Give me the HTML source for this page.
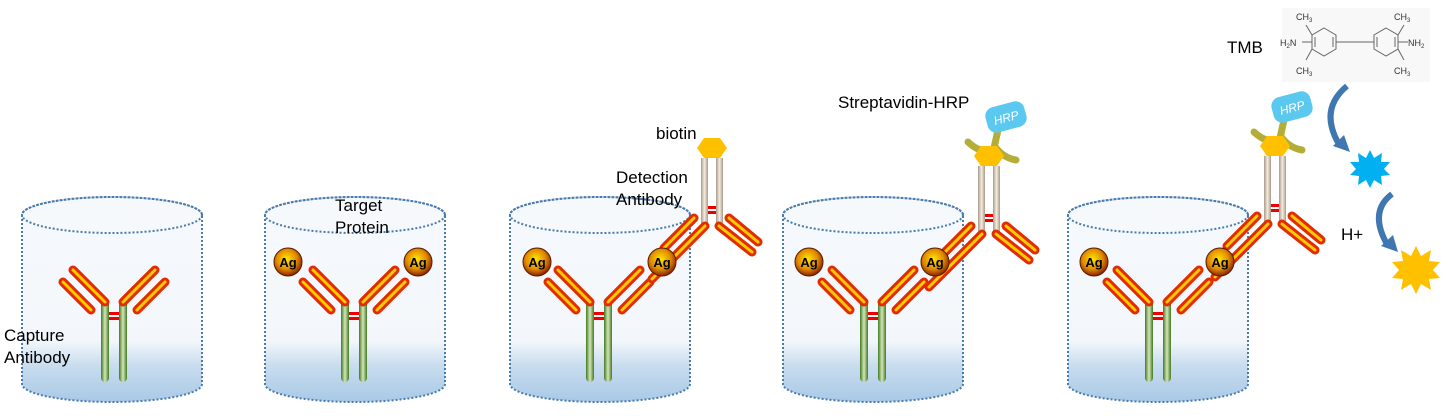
<!DOCTYPE html>
<html><head><meta charset="utf-8"><style>
html,body{margin:0;padding:0;background:#fff;}
svg{display:block;font-family:"Liberation Sans",Arial,sans-serif;}
</style></head><body>
<svg width="1449" height="418" viewBox="0 0 1449 418" xmlns="http://www.w3.org/2000/svg">
<defs>
<linearGradient id="cyl" x1="0" y1="0" x2="0" y2="1">
<stop offset="0" stop-color="#f6f9fc"/><stop offset="0.7" stop-color="#f3f7fb"/><stop offset="0.82" stop-color="#c9ddef"/><stop offset="1" stop-color="#a9c8e6"/>
</linearGradient>
<linearGradient id="grn" x1="0" y1="0" x2="1" y2="0">
<stop offset="0" stop-color="#3f7a22"/><stop offset="0.5" stop-color="#d6e6b8"/><stop offset="1" stop-color="#3f7a22"/>
</linearGradient>
<linearGradient id="tan" x1="0" y1="0" x2="1" y2="0">
<stop offset="0" stop-color="#a89a88"/><stop offset="0.5" stop-color="#f5ece0"/><stop offset="1" stop-color="#a89a88"/>
</linearGradient>
<radialGradient id="ag" cx="0.45" cy="0.4" r="0.6">
<stop offset="0" stop-color="#ffe600"/><stop offset="0.6" stop-color="#e08a00"/><stop offset="1" stop-color="#8a2200"/>
</radialGradient>
<g id="cap">
<rect x="-14" y="0" width="8" height="82" rx="4" fill="url(#grn)"/>
<rect x="4" y="0" width="8" height="82" rx="4" fill="url(#grn)"/>
<rect x="-6" y="12" width="10" height="3" fill="#e00"/><rect x="-6" y="17" width="10" height="3" fill="#e00"/>
<g stroke="#e32b00" stroke-width="9" stroke-linecap="round" fill="none">
<line x1="-10" y1="2" x2="-42" y2="-30"/><line x1="-24" y1="10" x2="-52" y2="-18"/>
<line x1="8" y1="2" x2="40" y2="-30"/><line x1="22" y1="10" x2="50" y2="-18"/>
</g>
<g stroke="#ffcc00" stroke-width="3" stroke-linecap="round" fill="none">
<line x1="-10" y1="2" x2="-42" y2="-30"/><line x1="-24" y1="10" x2="-52" y2="-18"/>
<line x1="8" y1="2" x2="40" y2="-30"/><line x1="22" y1="10" x2="50" y2="-18"/>
</g>
</g>
<g id="det">
<rect x="-11" y="0" width="7" height="68" fill="url(#tan)"/>
<rect x="4" y="0" width="7" height="68" fill="url(#tan)"/>
<rect x="-4" y="48" width="8" height="3" fill="#e00"/><rect x="-4" y="53" width="8" height="3" fill="#e00"/>
<g stroke="#e32b00" stroke-width="9" stroke-linecap="round" fill="none">
<line x1="-7" y1="68" x2="-60" y2="121"/><line x1="-18" y1="60" x2="-48" y2="90"/>
<line x1="7" y1="68" x2="40" y2="94"/><line x1="17" y1="60" x2="46" y2="84"/>
</g>
<g stroke="#ffcc00" stroke-width="3" stroke-linecap="round" fill="none">
<line x1="-7" y1="68" x2="-60" y2="121"/><line x1="-18" y1="60" x2="-48" y2="90"/>
<line x1="7" y1="68" x2="40" y2="94"/><line x1="17" y1="60" x2="46" y2="84"/>
</g>
</g>
<polygon id="hex" points="-15,-10 -8,-20 8,-20 15,-10 8,0 -8,0" fill="#ffc000"/>
<g id="cylb">
<path d="M0,0 L0,169 A90,18 0 0 0 180,169 L180,0 A90,18 0 0 0 0,0 Z" fill="url(#cyl)" stroke="#4a7bad" stroke-width="2" stroke-dasharray="2,2"/>
<ellipse cx="90" cy="0" rx="90" ry="18" fill="none" stroke="#4a7bad" stroke-width="2" stroke-dasharray="2,2"/>
</g>
<g id="agc"><circle r="14" fill="url(#ag)" stroke="#5a1a00" stroke-width="1"/><text y="5" text-anchor="middle" font-size="13" font-weight="bold">Ag</text></g>
<g id="hrp">
<path d="M-20,-8 Q-5,6 8,-2 Q16,8 28,10" fill="none" stroke="#b5ad3a" stroke-width="7" stroke-linecap="round"/>
<line x1="6" y1="-2" x2="10" y2="-20" stroke="#b5ad3a" stroke-width="7" stroke-linecap="round"/>
<g transform="rotate(-15 18 -33)">
<rect x="-2" y="-46" width="40" height="26" rx="9" fill="#5bc8f0"/>
<text x="18" y="-28" text-anchor="middle" font-size="12" font-style="italic" fill="#fff">HRP</text>
</g>
</g>
</defs>

<use href="#cylb" x="22" y="215"/>
<use href="#cylb" x="265" y="215"/>
<use href="#cylb" x="510" y="215"/>
<use href="#cylb" x="783" y="215"/>
<use href="#cylb" x="1068" y="215"/>

<use href="#cap" x="115" y="300"/>
<use href="#cap" x="355" y="300"/>
<use href="#cap" x="600" y="300"/>
<use href="#cap" x="874" y="300"/>
<use href="#cap" x="1159" y="300"/>

<use href="#det" x="712" y="158"/>
<use href="#det" x="989" y="166"/>
<use href="#det" x="1275" y="156"/>
<use href="#hrp" x="988" y="150"/>
<use href="#hrp" x="1274" y="140"/>
<use href="#hex" x="712" y="158"/>
<use href="#hex" x="989" y="166"/>
<use href="#hex" x="1275" y="156"/>

<use href="#agc" x="288" y="262"/><use href="#agc" x="418" y="262"/>
<use href="#agc" x="537" y="262"/><use href="#agc" x="662" y="262"/>
<use href="#agc" x="809" y="262"/><use href="#agc" x="935" y="262"/>
<use href="#agc" x="1094" y="262"/><use href="#agc" x="1220" y="262"/>

<g font-size="17" fill="#000">
<text x="4" y="341">Capture</text><text x="4" y="363">Antibody</text>
<text x="335" y="211">Target</text><text x="335" y="233">Protein</text>
<text x="656" y="139">biotin</text>
<text x="616" y="183">Detection</text><text x="616" y="205">Antibody</text>
<text x="838" y="108">Streptavidin-HRP</text>
<text x="1227" y="53">TMB</text>
<text x="1341" y="240">H+</text>
</g>

<g transform="translate(1282,8)" stroke="#666" stroke-width="1" fill="none">
<rect x="0" y="0" width="148" height="74" fill="#f8f8f8" stroke="none"/>
<polygon points="42,20 54,27 54,41 42,48 30,41 30,27"/>
<polygon points="104,20 116,27 116,41 104,48 92,41 92,27"/>
<line x1="33" y1="29" x2="33" y2="39"/><line x1="51" y1="29" x2="51" y2="39"/>
<line x1="95" y1="29" x2="95" y2="39"/><line x1="113" y1="29" x2="113" y2="39"/>
<line x1="54" y1="34" x2="92" y2="34"/>
<line x1="30" y1="34" x2="20" y2="34"/><line x1="116" y1="34" x2="126" y2="34"/>
<line x1="30" y1="27" x2="24" y2="17"/><line x1="30" y1="41" x2="24" y2="52"/>
<line x1="116" y1="27" x2="122" y2="17"/><line x1="116" y1="41" x2="122" y2="52"/>
<g fill="#333" stroke="none" font-size="9">
<text x="14" y="12">CH<tspan font-size="6" dy="2">3</tspan></text>
<text x="112" y="12">CH<tspan font-size="6" dy="2">3</tspan></text>
<text x="14" y="66">CH<tspan font-size="6" dy="2">3</tspan></text>
<text x="112" y="66">CH<tspan font-size="6" dy="2">3</tspan></text>
<text x="-2" y="38">H<tspan font-size="6" dy="2">2</tspan><tspan dy="-2">N</tspan></text>
<text x="126" y="38">NH<tspan font-size="6" dy="2">2</tspan></text>
</g>
</g>

<path d="M1347,86 Q1318,110 1340,146" fill="none" stroke="#3f78b0" stroke-width="6"/>
<polygon points="1333,146 1350,152 1344,135" fill="#3f78b0"/>
<path d="M1392,194 Q1368,212 1388,246" fill="none" stroke="#3f78b0" stroke-width="6"/>
<polygon points="1381,246 1398,252 1393,235" fill="#3f78b0"/>

<polygon fill="#00b0f0" points="1370,150 1374,158 1382,153 1381,162 1390,162 1384,169 1390,175 1381,176 1382,185 1374,180 1370,188 1366,180 1358,185 1359,176 1350,175 1356,169 1350,162 1359,162 1358,153 1366,158"/>
<polygon fill="#ffc000" points="1416,246 1421,256 1431,250 1429,261 1440,262 1433,270 1440,278 1429,279 1431,290 1421,284 1416,294 1411,284 1401,290 1403,279 1392,278 1399,270 1392,262 1403,261 1401,250 1411,256"/>
</svg>
</body></html>
